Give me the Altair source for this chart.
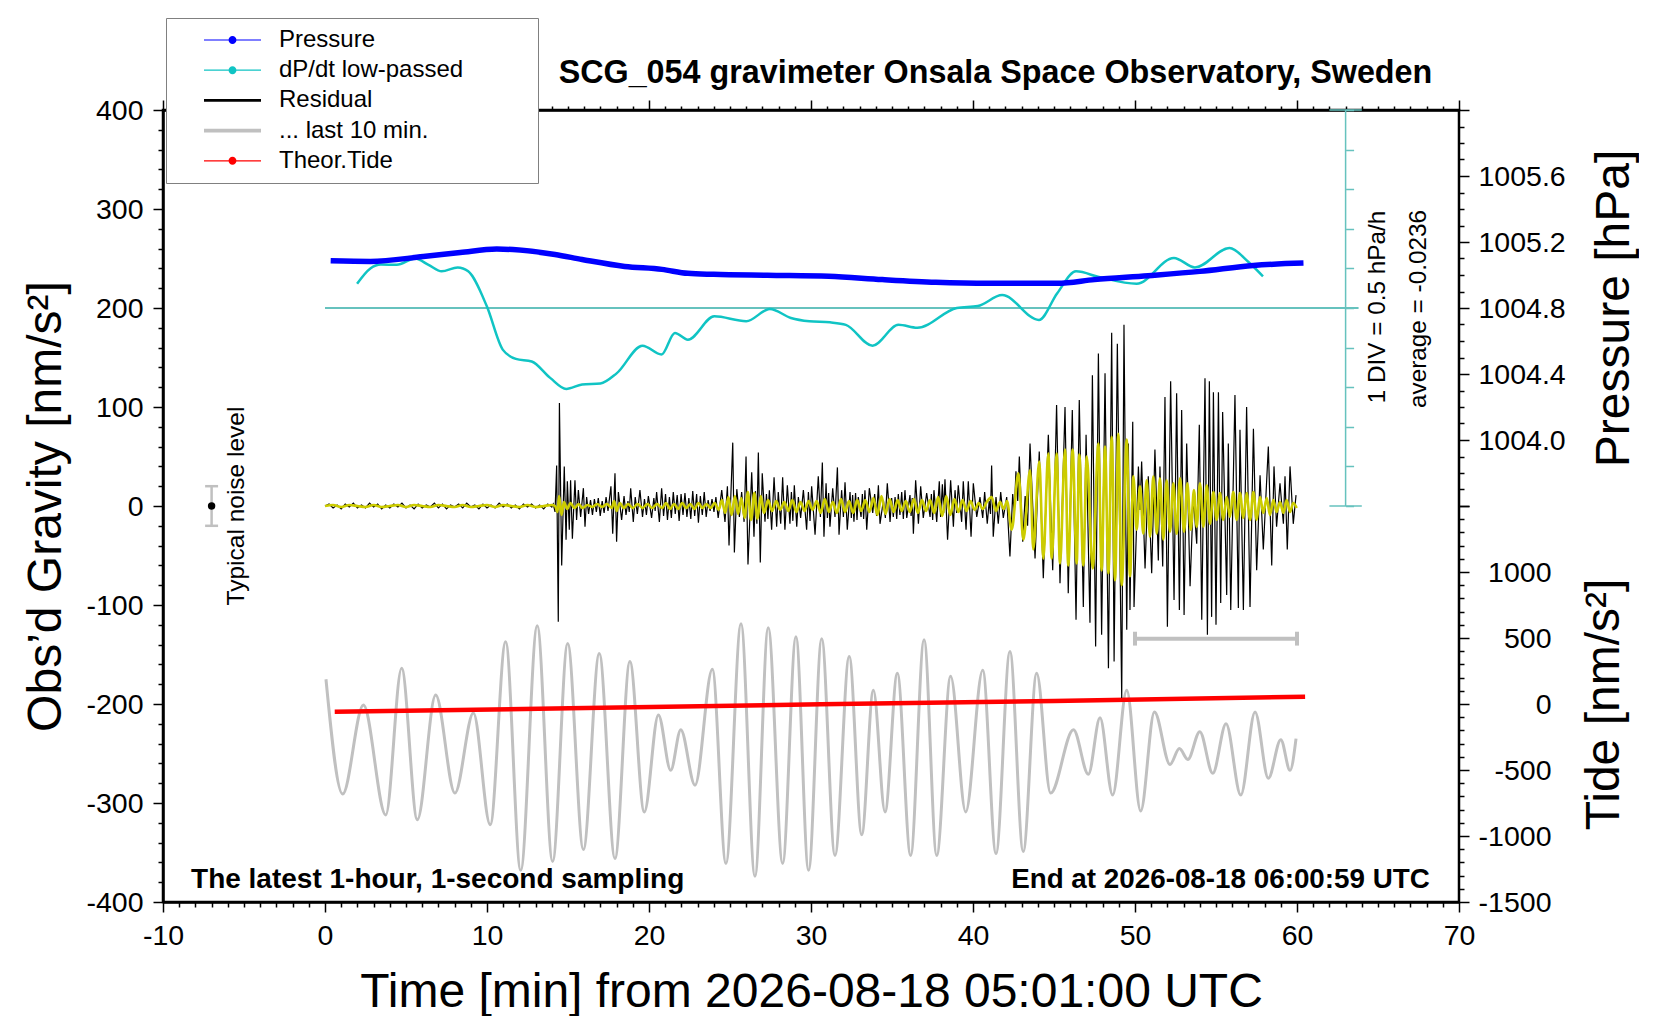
import altair as alt
import pandas as pd

FONT = "Liberation Sans"

# ---------------- values ----------------
X_DOMAIN = [-10, 70]            # time [min]
G_DOMAIN = [-400, 400]          # gravity [nm/s^2]
P_DOMAIN = [1003.6, 1006.0]     # pressure axis [hPa] (upper half)
TIDE_DOMAIN = [-1500, 1500]     # tide axis [nm/s^2] (lower half)
DPDT_AVG = -0.0236              # hPa/h
DPDT_DIV = 0.5                  # hPa/h per division
DPDT_NDIV = 5

# Residual (black): quiet part, one value every 0.25 min from t = 0
RES_QUIET_STEP = 0.25
res_quiet = [0, 2, -2, 1, -3, 2, -1, 3, -2, 1, -2, 3, -1, 2, -3, 1, -2, 2, -1, 3,
             -2, 1, -3, 2, -2, 1, -1, 3, -2, 2, -3, 1, -1, 2, -2, 3, -1, 1, -3, 2,
             -2, 1, -2, 3, -1, 2, -2, 1, -3, 2, -1, 2, -2, 1, -3, 2, -1]
# Residual (black): (t, value) extremes
res_p1 = [(14.09, 2), (14.20, -6), (14.30, 41), (14.40, -117), (14.47, 104), (14.61, -60),
          (14.77, 40), (14.88, -34), (14.96, 25), (15.08, -24), (15.16, 26), (15.27, -33),
          (15.43, 26), (15.53, -14), (15.64, 16), (15.78, -11), (15.95, 18), (16.05, -21),
          (16.15, 9), (16.27, -8), (16.39, 6), (16.51, -9), (16.63, 7), (16.75, -6),
          (16.87, 8), (16.99, -10), (17.11, 5), (17.23, -7), (17.35, 9), (17.47, -5),
          (17.65, 20), (17.76, -28), (17.90, 33), (18.00, -36), (18.11, 14), (18.31, -14),
          (18.46, 10), (18.58, -9), (18.70, 5), (18.78, -6), (18.87, 18), (19.03, -16),
          (19.15, 9), (19.28, -8), (19.44, 16), (19.60, -11), (19.72, 7), (19.84, -9),
          (19.96, 10), (20.16, -12), (20.30, 8), (20.38, -5), (20.47, 14), (20.64, -16)]
res_p2 = [(20.78, 18), (20.90, -10), (21.02, 12), (21.14, -14), (21.26, 9), (21.38, -12),
          (21.50, 14), (21.62, -8), (21.74, 11), (21.86, -15), (21.98, 12), (22.10, -9),
          (22.22, 13), (22.34, -11), (22.46, 8), (22.58, -13), (22.70, 15), (22.82, -10),
          (22.94, 12), (23.05, -17), (23.17, 10), (23.29, -9), (23.41, 14), (23.53, -11),
          (23.65, 6), (23.77, -5), (23.89, 7), (24.01, -6), (24.13, 9), (24.27, -12),
          (24.49, 16), (24.69, -16), (24.84, 20), (24.94, -40), (25.17, 64), (25.27, -47),
          (25.42, 17), (25.58, -11), (25.72, 14), (25.87, -16), (25.99, 50), (26.11, -59),
          (26.34, 34), (26.48, -31), (26.57, 15), (26.66, -18), (26.75, 54), (26.87, -57),
          (26.99, 33), (27.16, -16), (27.25, 12), (27.34, -13), (27.43, 16), (27.57, -24),
          (27.72, 29), (27.88, -21), (27.98, 14), (28.13, -18), (28.25, 29), (28.39, -24),
          (28.54, 21), (28.70, -18), (28.79, 14), (28.88, -15), (28.97, 21), (29.12, -21),
          (29.22, 9), (29.36, -12), (29.53, 16), (29.73, -24), (29.84, 14), (29.94, -15),
          (30.04, 20), (30.25, -29), (30.45, 30), (30.58, -11), (30.70, 44), (30.80, -31),
          (30.93, 23), (31.01, -12), (31.09, 13), (31.17, -21), (31.34, 18), (31.48, -11),
          (31.63, 39), (31.73, -29), (31.89, 16), (32.00, -11), (32.10, 24), (32.24, -24),
          (32.41, 14), (32.49, -12), (32.57, 11), (32.65, -16), (32.75, 13), (32.84, -14),
          (32.92, 9), (33.09, -11), (33.17, 12), (33.25, -13), (33.33, 16), (33.44, -24),
          (33.60, 18), (33.81, -7), (33.93, 12), (34.05, -10), (34.16, 21), (34.26, -18),
          (34.47, 6), (34.59, -12), (34.71, 23), (34.88, -16), (34.98, 8), (35.08, -11),
          (35.19, 9), (35.29, -13), (35.39, 12), (35.49, -9), (35.60, 14), (35.70, -13),
          (35.80, 16), (35.91, -12), (36.11, 11), (36.18, -10), (36.25, 8), (36.32, -28),
          (36.46, 26), (36.63, -18), (36.77, 20), (36.93, -12), (37.14, 13), (37.35, -11),
          (37.43, 12), (37.51, -14), (37.59, 16), (37.76, -16), (37.92, 25), (38.00, -11),
          (38.11, 22), (38.19, -7), (38.27, 27), (38.43, -34), (38.62, 26), (38.79, -21),
          (38.89, 16), (38.99, -7), (39.09, 21), (39.30, -16), (39.40, 25), (39.57, -24),
          (39.71, 25), (39.88, -31), (40.02, 23), (40.23, -11)]
res_p3 = [(40.43, 9), (40.60, -12), (40.72, 14), (40.88, -18), (41.00, 5), (41.08, -8),
          (41.15, 41), (41.25, -31), (41.42, 9), (41.56, -18), (41.71, 14), (41.87, -12),
          (42.08, 9), (42.28, -51), (42.45, 12), (42.55, -8), (42.65, 35), (42.76, 5),
          (42.86, 50), (43.07, -36), (43.22, 10), (43.37, -20), (43.52, 63), (43.83, -53),
          (44.09, 55), (44.34, -73), (44.65, 72), (44.92, -65), (45.16, 102), (45.37, -78),
          (45.68, 100), (45.88, -88), (46.13, 97), (46.36, -115), (46.56, 107), (46.81, -102),
          (46.98, 72), (47.22, -118), (47.37, 132), (47.57, -142), (47.74, 154), (47.94, -130),
          (48.15, 134), (48.36, -164), (48.56, 175), (48.71, -157), (48.91, 164), (49.18, -194),
          (49.32, 183), (49.49, -125), (49.59, 63), (49.69, -105), (49.86, 85), (49.94, -102),
          (50.21, 40), (50.31, -4), (50.41, 45), (50.62, -63), (50.82, 30), (51.03, -68),
          (51.23, 57), (51.44, -55), (51.54, 40), (51.71, -61), (51.85, 110), (52.00, -122),
          (52.20, 126), (52.41, -95), (52.57, 114), (52.74, -105), (52.88, 97), (53.03, -110),
          (53.19, 63), (53.40, -81), (53.60, 9), (53.81, -38), (53.97, 82), (54.12, -115),
          (54.32, 129), (54.47, -130), (54.59, 126), (54.73, -112), (54.84, 115), (55.00, -120),
          (55.15, 115), (55.29, -98), (55.41, 95), (55.66, -90), (55.76, 63), (55.91, -105),
          (56.17, 112), (56.38, -103), (56.48, 77), (56.69, -105), (56.89, 100), (57.10, -102),
          (57.31, 78), (57.51, -65), (57.72, 31), (57.92, -44), (58.23, 60), (58.44, -60),
          (58.58, 40), (58.74, -21), (58.95, 23), (59.16, -18), (59.26, 30), (59.40, -44),
          (59.57, 40), (59.77, -18), (59.94, 11)]

# Low-passed residual (yellow): quiet part every 0.5 min, then (t, value) extremes
YEL_QUIET_STEP = 0.5
yel_quiet = [0, 1, -1, 1, 0, -1, 1, -1, 0, 1, -1, 1, 0, -1, 1, 0, -1, 1, -1, 0,
             1, -1, 1, 0, -1, 1, -1, 0, 1]
yel_p1 = [(14.20, 0), (14.35, -6), (14.45, 10), (14.60, -9), (14.75, 4), (14.95, -3),
          (15.15, 3), (15.40, -2), (15.65, 2), (15.90, -2), (16.20, 1), (16.50, -1),
          (16.80, 2), (17.10, -1), (17.40, 2), (17.70, -2), (17.85, 5), (18.00, -5),
          (18.20, 3), (18.45, -2), (18.70, 2), (19.00, -2), (19.30, 2), (19.60, -2),
          (19.90, 2), (20.20, -2), (20.50, 2)]
yel_p2 = [(20.80, -2), (21.05, 3), (21.30, -3), (21.55, 2), (21.80, -3), (22.05, 3),
          (22.30, -2), (22.55, 2), (22.80, -3), (23.05, 3), (23.30, -2), (23.55, 2),
          (23.80, -2), (24.05, 3), (24.30, -4), (24.50, 6), (24.70, -7), (24.90, 9),
          (25.10, -9), (25.30, 10), (25.50, -8), (25.70, 8), (25.90, -12), (26.10, 14),
          (26.30, -14), (26.50, 13), (26.70, -13), (26.90, 10), (27.10, -7), (27.35, 6),
          (27.60, -5), (27.85, 5), (28.10, -4), (28.35, 4), (28.60, -5), (28.85, 6),
          (29.10, -6), (29.35, 4), (29.60, -5), (29.85, 5), (30.10, -4), (30.35, 5),
          (30.60, -7), (30.85, 7), (31.10, -6), (31.35, 4), (31.60, -7), (31.85, 7),
          (32.10, -6), (32.35, 5), (32.60, -7), (32.85, 6), (33.10, -5), (33.35, 6),
          (33.60, -6), (33.85, 8), (34.10, -9), (34.35, 10), (34.60, -8), (34.85, 7),
          (35.10, -6), (35.35, 6), (35.60, -5), (35.85, 5), (36.10, -6), (36.35, 7),
          (36.60, -7), (36.85, 6), (37.10, -5), (37.35, 6), (37.60, -7), (37.85, 9),
          (38.10, -10), (38.35, 10), (38.60, -9), (38.85, 7), (39.10, -6), (39.35, 6),
          (39.60, -5), (39.85, 5), (40.10, -4), (40.35, 3), (40.60, -3), (40.85, 4)]
yel_p3 = [(41.15, 9), (41.42, -5), (41.67, 4), (41.90, -3), (42.10, 5), (42.39, -24),
          (42.80, 33), (43.11, -34), (43.52, 36), (43.72, -44), (44.09, 45), (44.34, -53),
          (44.65, 53), (44.86, -53), (45.16, 53), (45.37, -58), (45.68, 57), (45.88, -60),
          (46.15, 57), (46.40, -58), (46.56, 52), (46.81, -60), (47.02, 50), (47.39, -63),
          (47.74, 63), (47.94, -65), (48.15, 60), (48.36, -68), (48.56, 70), (48.77, -75),
          (48.97, 73), (49.18, -80), (49.49, 67), (49.69, -71), (49.90, 30), (50.10, -24),
          (50.31, 20), (50.51, -28), (50.72, 26), (50.93, -31), (51.13, 30), (51.34, -28),
          (51.54, 28), (51.75, -34), (51.95, 26), (52.16, -26), (52.37, 23), (52.57, -28),
          (52.78, 28), (53.03, -26), (53.23, 23), (53.44, -24), (53.64, 16), (53.81, -21),
          (54.01, 23), (54.22, -21), (54.43, 21), (54.63, -18), (54.84, 14), (55.04, -14),
          (55.25, 13), (55.45, -14), (55.66, 9), (55.86, -11), (56.07, 14), (56.28, -14),
          (56.48, 13), (56.69, -12), (56.89, 13), (57.10, -14), (57.31, 14), (57.51, -14),
          (57.72, 9), (57.92, -7), (58.13, 8), (58.33, -9), (58.54, 6), (58.74, -6),
          (58.95, 4), (59.16, -7), (59.36, 6), (59.57, -6), (59.77, 3), (59.98, -2)]

# "... last 10 min." (grey), plotted on the gravity axis
last10 = [(0.06, -175), (1.09, -291), (2.37, -201), (3.75, -312), (4.73, -164), (5.70, -317),
          (6.83, -191), (8.02, -290), (9.16, -209), (10.20, -322), (11.15, -137), (12.08, -368),
          (13.10, -121), (14.05, -359), (14.98, -139), (15.95, -347), (16.93, -149), (17.90, -356),
          (18.82, -157), (19.71, -309), (20.58, -211), (21.34, -267), (21.96, -226), (22.84, -282),
          (23.91, -165), (24.75, -361), (25.68, -119), (26.54, -374), (27.36, -123), (28.25, -361),
          (29.07, -132), (29.85, -368), (30.66, -134), (31.48, -353), (32.36, -152), (33.13, -332),
          (33.85, -186), (34.57, -309), (35.33, -169), (36.15, -353), (36.98, -135), (37.76, -353),
          (38.62, -172), (39.55, -309), (40.60, -166), (41.42, -351), (42.28, -147), (43.10, -349),
          (43.93, -169), (44.79, -290), (46.20, -226), (47.12, -271), (47.84, -214), (48.62, -292),
          (49.49, -186), (50.35, -308), (51.20, -208), (52.16, -261), (52.74, -245), (53.26, -256),
          (54.00, -228), (54.80, -270), (55.62, -220), (56.53, -292), (57.41, -208), (58.23, -275),
          (59.00, -236), (59.57, -267), (59.94, -235)]

# Pressure [hPa]
pressure = [(0.35, 1005.086), (2.8, 1005.082), (6.07, 1005.112), (8.35, 1005.136),
            (10.6, 1005.157), (11.6, 1005.154), (14.2, 1005.124), (15.87, 1005.094),
            (18.5, 1005.052), (20.8, 1005.034), (22.4, 1005.010), (24.0, 1005.004),
            (27.3, 1004.998), (31.1, 1004.992), (34.4, 1004.972), (37.7, 1004.956),
            (41.0, 1004.950), (45.2, 1004.950), (47.5, 1004.972), (50.8, 1004.996),
            (54.0, 1005.022), (57.3, 1005.058), (60.4, 1005.072)]

# dP/dt low-passed [hPa/h]
dpdt = [(1.98, 0.283), (2.8, 0.476), (3.45, 0.526), (4.43, 0.521), (5.57, 0.601), (6.39, 0.521),
        (7.2, 0.439), (8.19, 0.489), (8.84, 0.439), (9.99, -0.002), (10.97, -0.549),
        (11.78, -0.666), (12.76, -0.699), (13.9, -0.906), (14.89, -1.045), (15.87, -0.990),
        (17.0, -0.977), (18.0, -0.849), (19.6, -0.499), (20.77, -0.611), (21.6, -0.339),
        (22.4, -0.424), (24.03, -0.129), (26.0, -0.191), (27.46, -0.036), (28.76, -0.149),
        (29.9, -0.191), (31.17, -0.205), (32.15, -0.236), (33.8, -0.499), (35.4, -0.236),
        (36.56, -0.274), (39.0, -0.024), (40.3, 0.001), (41.8, 0.139), (44.07, -0.174),
        (45.2, 0.164), (46.36, 0.439), (47.83, 0.364), (50.1, 0.283), (52.4, 0.609),
        (53.7, 0.489), (55.83, 0.733), (56.97, 0.564), (57.9, 0.376)]
DPDT_LINE_T = [0.0, 63.8]   # extent of the average line
DPDT_AXIS_T = 63.0          # position of the dP/dt scale
DPDT_CAP_T = [62.0, 64.0]

# Theoretical tide [nm/s^2]
tide = [(0.6, -58), (15.1, -33), (30.6, -2), (45.0, 22), (60.5, 55)]

# Typical noise level and 10-minute scale bar
NOISE_T, NOISE_LEVEL, NOISE_CAP = -7.0, 20, 0.4
BAR_T, BAR_G, BAR_CAP = [50, 60], -134, 7

LEG_NAMES = ["Pressure", "dP/dt low-passed", "Residual", "... last 10 min.", "Theor.Tide"]
BLUE, CYAN, CYAN_AX, YELLOW, GRAY, RED = "#0000ff", "#10c4c4", "#66c2be", "#cccc00", "#c0c0c0", "#ff0000"
LEG_COLORS = [BLUE, CYAN, "#000000", GRAY, RED]
# legend glyphs (unit = 12 px); the trailing zero-area sub-path sets the legend box width
EXT = " M24.6,0L24.6,0.01L24.6,0Z"
LINEDOT = ("M-2.375,-0.05L2.375,-0.05L2.375,0.05L-2.375,0.05Z "
           "M0.33,0A0.33,0.33,0,1,1,-0.33,0A0.33,0.33,0,1,1,0.33,0Z" + EXT)
THICK_K = "M-2.375,-0.11L2.375,-0.11L2.375,0.11L-2.375,0.11Z" + EXT
THICK_G = "M-2.375,-0.16L2.375,-0.16L2.375,0.16L-2.375,0.16Z" + EXT
LEG_SHAPES = [LINEDOT, LINEDOT, THICK_K, THICK_G, LINEDOT]

TITLE = "SCG_054 gravimeter Onsala Space Observatory, Sweden"
NOTE_LEFT = "The latest 1-hour, 1-second sampling"
NOTE_RIGHT = "End at 2026-08-18 06:00:59 UTC"
X_TITLE = "Time [min] from 2026-08-18 05:01:00 UTC"
Y_TITLE = "Obs\u2019d Gravity [nm/s\u00b2]"
P_TITLE = "Pressure [hPa]"
T_TITLE = "Tide [nm/s\u00b2]"
NOISE_TEXT = "Typical noise level"
DIV_TEXT = "1 DIV = 0.5 hPa/h"
AVG_TEXT = "average = -0.0236"

# ---------------- build tables ----------------
def pairs(p, col):
    return pd.DataFrame(p, columns=["t", col])

df_black = pd.concat([
    pd.DataFrame({"t": [i * RES_QUIET_STEP for i in range(len(res_quiet))], "g": res_quiet}),
    pairs(res_p1, "g"), pairs(res_p2, "g"), pairs(res_p3, "g")], ignore_index=True)
df_yel = pd.concat([
    pd.DataFrame({"t": [i * YEL_QUIET_STEP for i in range(len(yel_quiet))], "g": yel_quiet}),
    pairs(yel_p1, "g"), pairs(yel_p2, "g"), pairs(yel_p3, "g")], ignore_index=True)
df_gray = pairs(last10, "g")
df_p = pairs(pressure, "p")
df_d = pairs(dpdt, "v")
df_tide = pairs(tide, "tide")

W, H = 1296, 792
dlo = DPDT_AVG - DPDT_DIV * DPDT_NDIV
dhi = DPDT_AVG + DPDT_DIV * DPDT_NDIV

xs = alt.Scale(domain=X_DOMAIN, nice=False, zero=False)
gs = alt.Scale(domain=G_DOMAIN, nice=False, zero=False)
ps = alt.Scale(domain=P_DOMAIN, range=[H / 2, 0], nice=False, zero=False)
tsc = alt.Scale(domain=TIDE_DOMAIN, range=[H, H / 2], nice=False, zero=False)
ds = alt.Scale(domain=[dlo, dhi], range=[H / 2, 0], nice=False, zero=False)


def cond(test, a, b):
    return {"condition": {"test": test, "value": a}, "value": b}


AXC = dict(domainColor="black", domainWidth=2.5, tickColor="black", tickWidth=1.5,
           labelColor="black", titleColor="black", labelFont=FONT, titleFont=FONT,
           labelFontSize=28.5, titleFontSize=48, titleFontWeight="normal", grid=False,
           labelOverlap=False, labelFlush=False)

X_TICKS = list(range(-10, 71))
G_TICKS = list(range(-400, 401, 20))
P_TICKS = [round(P_DOMAIN[0] + 0.1 * i, 1) for i in range(25)]
T_TICKS = list(range(-1500, 1501, 100))
D_TICKS = [round(dlo + DPDT_DIV * i, 4) for i in range(2 * DPDT_NDIV + 1)]

x_bottom = alt.Axis(orient="bottom", values=X_TICKS,
                    labelExpr="datum.value % 10 === 0 ? '' + datum.value : ''",
                    tickSize=cond("datum.value % 10 === 0", 10, 5), labelPadding=9,
                    title=X_TITLE, titlePadding=19, **AXC)
x_top = alt.Axis(orient="top", values=X_TICKS, labels=False, title=None,
                 tickSize=cond("datum.value % 10 === 0", 10, 4), **AXC)
y_left = alt.Axis(orient="left", values=G_TICKS,
                  labelExpr="datum.value % 100 === 0 ? '' + datum.value : ''",
                  tickSize=cond("datum.value % 100 === 0", 10, 5), labelPadding=10,
                  title=Y_TITLE, titlePadding=15, **AXC)
p_axis = alt.Axis(orient="right", values=P_TICKS, domain=False,
                  labelExpr="round(datum.value * 10) % 4 === 0 && datum.value > 1003.7 && datum.value < 1005.9 ? format(datum.value, '.1f') : ''",
                  tickSize=cond("round(datum.value * 10) % 4 === 0", 10, 5), labelPadding=9,
                  labelAlign="left", title=P_TITLE, titleAngle=270, titleBaseline="top",
                  titlePadding=25, **AXC)
t_axis = alt.Axis(orient="right", values=T_TICKS, domain=False,
                  labelExpr="datum.value % 500 === 0 && datum.value < 1500 ? '' + datum.value : ''",
                  tickSize=cond("datum.value % 500 === 0", 10, 5), labelPadding=82,
                  labelAlign="right", title=T_TITLE, titleAngle=270, titleBaseline="top",
                  titlePadding=29, **AXC)
d_axis = alt.Axis(orient="right", offset=-113.4, values=D_TICKS, labels=False, domain=False,
                  tickColor=CYAN_AX, tickSize=8, tickWidth=1.5, title=None, grid=False)

NOAX = None

# ---------------- layers ----------------
avg_line = alt.Chart(pd.DataFrame({"t0": [DPDT_LINE_T[0]], "t1": [DPDT_LINE_T[1]], "v": [DPDT_AVG]})).mark_rule(
    color=CYAN_AX, strokeWidth=2).encode(
    x=alt.X("t0:Q", scale=xs, axis=NOAX), x2="t1:Q", y=alt.Y("v:Q", scale=ds, axis=NOAX))

d_scale_line = alt.Chart(pd.DataFrame({"t": [DPDT_AXIS_T], "v0": [dlo], "v1": [dhi]})).mark_rule(
    color=CYAN_AX, strokeWidth=1.5).encode(
    x=alt.X("t:Q", scale=xs, axis=NOAX), y=alt.Y("v0:Q", scale=ds, axis=d_axis), y2="v1:Q")

d_caps = alt.Chart(pd.DataFrame({"t0": DPDT_CAP_T[:1] * 2, "t1": DPDT_CAP_T[1:] * 2, "v": [dlo, dhi]})).mark_rule(
    color=CYAN_AX, strokeWidth=1.5).encode(
    x=alt.X("t0:Q", scale=xs, axis=NOAX), x2="t1:Q", y=alt.Y("v:Q", scale=ds, axis=NOAX))

cyan = alt.Chart(df_d).mark_line(color=CYAN, strokeWidth=2.5, interpolate="monotone").encode(
    x=alt.X("t:Q", scale=xs, axis=NOAX), y=alt.Y("v:Q", scale=ds, axis=NOAX))

blue = alt.Chart(df_p).mark_line(color=BLUE, strokeWidth=5.5, interpolate="monotone").encode(
    x=alt.X("t:Q", scale=xs, axis=NOAX), y=alt.Y("p:Q", scale=ps, axis=p_axis))

gray = alt.Chart(df_gray).mark_line(color=GRAY, strokeWidth=3, interpolate="monotone").encode(
    x=alt.X("t:Q", scale=xs, axis=x_bottom), y=alt.Y("g:Q", scale=gs, axis=y_left))

red = alt.Chart(df_tide).mark_line(color=RED, strokeWidth=4.5).encode(
    x=alt.X("t:Q", scale=xs, axis=NOAX), y=alt.Y("tide:Q", scale=tsc, axis=t_axis))

black = alt.Chart(df_black).mark_line(color="black", strokeWidth=1.2).encode(
    x=alt.X("t:Q", scale=xs, axis=x_top), y=alt.Y("g:Q", scale=gs, axis=NOAX))

yellow = alt.Chart(df_yel).mark_line(color=YELLOW, strokeWidth=2.6, interpolate="monotone").encode(
    x=alt.X("t:Q", scale=xs, axis=NOAX), y=alt.Y("g:Q", scale=gs, axis=NOAX))

bar = alt.Chart(pd.DataFrame({"t0": [BAR_T[0]], "t1": [BAR_T[1]], "g": [BAR_G]})).mark_rule(
    color=GRAY, strokeWidth=4).encode(
    x=alt.X("t0:Q", scale=xs, axis=NOAX), x2="t1:Q", y=alt.Y("g:Q", scale=gs, axis=NOAX))
bar_caps = alt.Chart(pd.DataFrame({"t": BAR_T, "g0": [BAR_G - BAR_CAP] * 2, "g1": [BAR_G + BAR_CAP] * 2})).mark_rule(
    color=GRAY, strokeWidth=4).encode(
    x=alt.X("t:Q", scale=xs, axis=NOAX), y=alt.Y("g0:Q", scale=gs, axis=NOAX), y2="g1:Q")

noise_bar = alt.Chart(pd.DataFrame({"t": [NOISE_T], "g0": [-NOISE_LEVEL], "g1": [NOISE_LEVEL]})).mark_rule(
    color=GRAY, strokeWidth=2.5).encode(
    x=alt.X("t:Q", scale=xs, axis=NOAX), y=alt.Y("g0:Q", scale=gs, axis=NOAX), y2="g1:Q")
noise_caps = alt.Chart(pd.DataFrame({"t0": [NOISE_T - NOISE_CAP] * 2, "t1": [NOISE_T + NOISE_CAP] * 2,
                                     "g": [-NOISE_LEVEL, NOISE_LEVEL]})).mark_rule(
    color=GRAY, strokeWidth=2.5).encode(
    x=alt.X("t0:Q", scale=xs, axis=NOAX), x2="t1:Q", y=alt.Y("g:Q", scale=gs, axis=NOAX))
noise_dot = alt.Chart(pd.DataFrame({"t": [NOISE_T], "g": [0]})).mark_circle(
    color="black", size=55, opacity=1).encode(
    x=alt.X("t:Q", scale=xs, axis=NOAX), y=alt.Y("g:Q", scale=gs, axis=NOAX))


def text_layer(txt, t, g, scale=gs, **mk):
    return alt.Chart(pd.DataFrame({"label": [txt]})).mark_text(font=FONT, color="black", **mk).encode(
        x=alt.XDatum(t, scale=xs, axis=NOAX), y=alt.YDatum(g, scale=scale, axis=NOAX),
        text="label:N")


texts = [
    text_layer(TITLE, 68.35, 427.5, fontSize=32.3, fontWeight="bold", align="right", baseline="alphabetic"),
    text_layer(NOTE_LEFT, -8.27, -385.5, fontSize=28, fontWeight="bold", align="left", baseline="alphabetic"),
    text_layer(NOTE_RIGHT, 68.2, -385.5, fontSize=27.8, fontWeight="bold", align="right", baseline="alphabetic"),
    text_layer(NOISE_TEXT, -5.45, 0, fontSize=24.5, angle=270, align="center", baseline="middle"),
    text_layer(DIV_TEXT, 65.0, 201, fontSize=24.3, angle=270, align="center", baseline="middle"),
    text_layer(AVG_TEXT, 67.5, 199, fontSize=24.3, angle=270, align="center", baseline="middle"),
]

leg = alt.Legend(title=None, orient="none", legendX=3, legendY=-92, padding=10,
                 strokeColor="#808080", fillColor="white", symbolSize=576, symbolOffset=44.5,
                 labelOffset=34.5, rowPadding=6.2, labelFontSize=24, labelFont=FONT,
                 labelColor="black", labelLimit=800, symbolOpacity=1, symbolStrokeWidth=0)
legend_layer = alt.Chart(pd.DataFrame({"name": LEG_NAMES})).mark_point(filled=True, opacity=0).encode(
    color=alt.Color("name:N", scale=alt.Scale(domain=LEG_NAMES, range=LEG_COLORS), legend=leg),
    shape=alt.Shape("name:N", scale=alt.Scale(domain=LEG_NAMES, range=LEG_SHAPES), legend=leg),
)

layers = [avg_line, d_scale_line, d_caps, cyan, blue, gray, red, black, yellow,
          bar, bar_caps, noise_bar, noise_caps, noise_dot] + texts + [legend_layer]

chart = alt.layer(*layers).resolve_scale(y="independent").resolve_axis(
    x="independent", y="independent").properties(
    width=W, height=H,
    autosize=alt.AutoSizeParams(type="none"),
    padding={"left": 155, "top": 102, "right": 180, "bottom": 114},
    background="white",
).configure(font=FONT).configure_view(stroke="black", strokeWidth=2.5)

chart.save("out.html", embed_options={"renderer": "svg", "actions": False})
